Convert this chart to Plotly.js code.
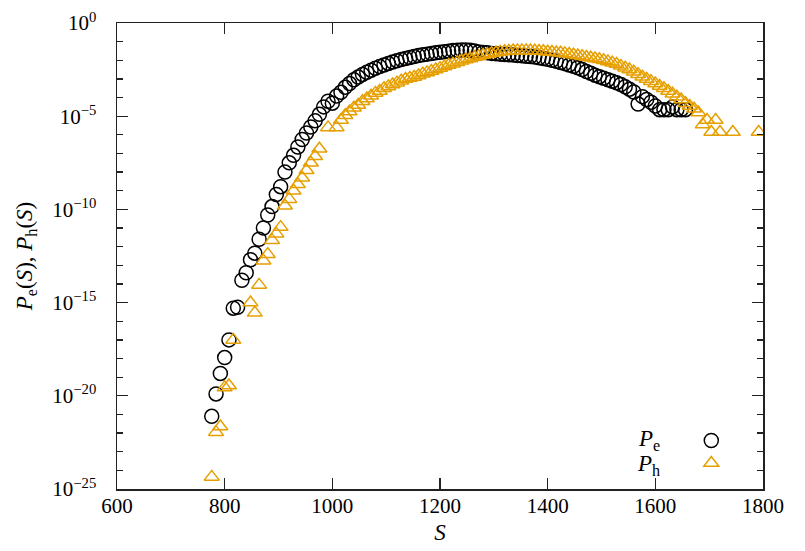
<!DOCTYPE html>
<html>
<head>
<meta charset="utf-8">
<script src="https://cdn.plot.ly/plotly-3.0.1.min.js"></script>
<style>html,body{margin:0;padding:0;background:#fff}#chart{width:805px;height:551px}</style>
</head>
<body>
<div id="chart"></div>
<script>
// S values and log10 of probabilities
const S_e = [776,784,792,800,808,816,824,832,840,848,856,864,872,880,888,896,904,912,920,928,936,944,952,960,968,976,984,992,1000,1008,1016,1024,1032,1040,1048,1056,1064,1072,1080,1088,1096,1104,1112,1120,1128,1136,1144,1152,1160,1168,1176,1184,1192,1200,1208,1216,1224,1232,1240,1248,1256,1264,1272,1280,1288,1296,1304,1312,1320,1328,1336,1344,1352,1360,1368,1376,1384,1392,1400,1408,1416,1424,1432,1440,1448,1456,1464,1472,1480,1488,1496,1504,1512,1520,1528,1536,1544,1552,1560,1568,1576,1584,1592,1600,1608,1616,1624,1632,1640,1648,1656];
const logP_e = [-21.1,-19.9,-18.8,-17.95,-17.0,-15.3,-15.25,-13.8,-13.4,-12.7,-12.35,-11.6,-11.0,-10.3,-9.85,-9.2,-8.78,-8.0,-7.5,-7.1,-6.65,-6.25,-5.9,-5.58,-5.25,-4.9,-4.5,-4.2,-4.3,-3.92,-3.72,-3.45,-3.25,-3.05,-2.9,-2.76,-2.64,-2.53,-2.43,-2.34,-2.25,-2.17,-2.09,-2.02,-1.96,-1.9,-1.85,-1.8,-1.75,-1.71,-1.67,-1.64,-1.6,-1.57,-1.54,-1.51,-1.48,-1.46,-1.45,-1.45,-1.46,-1.5,-1.55,-1.58,-1.6,-1.63,-1.65,-1.67,-1.69,-1.7,-1.72,-1.74,-1.76,-1.78,-1.8,-1.83,-1.87,-1.91,-1.95,-2.0,-2.05,-2.12,-2.18,-2.25,-2.32,-2.4,-2.5,-2.6,-2.7,-2.8,-2.88,-2.96,-3.04,-3.12,-3.2,-3.3,-3.42,-3.55,-3.7,-4.35,-3.95,-4.1,-4.25,-4.45,-4.65,-4.65,-4.65,-4.5,-4.65,-4.65,-4.65];

const S_h = [776,784,792,800,808,816,848,856,864,872,880,888,896,904,912,920,928,936,944,952,960,968,976,992,1008,1016,1024,1032,1040,1048,1056,1064,1072,1080,1088,1096,1104,1112,1120,1128,1136,1144,1152,1160,1168,1176,1184,1192,1200,1208,1216,1224,1232,1240,1248,1256,1264,1272,1280,1288,1296,1304,1312,1320,1328,1336,1344,1352,1360,1368,1376,1384,1392,1400,1408,1416,1424,1432,1440,1448,1456,1464,1472,1480,1488,1496,1504,1512,1520,1528,1536,1544,1552,1560,1568,1576,1584,1592,1600,1608,1616,1624,1632,1640,1648,1656,1664,1672,1680,1688,1696,1704,1712,1720,1744,1792];
const logP_h = [-24.35,-21.95,-21.65,-19.55,-19.45,-17.0,-15.0,-15.55,-14.05,-12.75,-12.4,-11.65,-11.3,-10.95,-9.8,-9.45,-9.0,-8.65,-8.3,-7.9,-7.5,-7.15,-6.75,-5.6,-5.6,-5.2,-4.95,-4.75,-4.55,-4.4,-4.2,-4.05,-3.9,-3.75,-3.65,-3.5,-3.4,-3.3,-3.2,-3.1,-3.0,-2.95,-2.9,-2.82,-2.72,-2.65,-2.58,-2.5,-2.42,-2.33,-2.25,-2.18,-2.1,-2.03,-1.96,-1.9,-1.84,-1.78,-1.72,-1.67,-1.62,-1.58,-1.55,-1.52,-1.5,-1.48,-1.47,-1.47,-1.47,-1.48,-1.49,-1.5,-1.52,-1.54,-1.56,-1.58,-1.6,-1.63,-1.66,-1.7,-1.74,-1.78,-1.82,-1.86,-1.9,-1.95,-2.0,-2.06,-2.13,-2.2,-2.3,-2.4,-2.5,-2.62,-2.75,-2.88,-3.0,-3.12,-3.25,-3.38,-3.5,-3.65,-3.8,-3.95,-4.1,-4.3,-4.45,-4.6,-4.8,-5.45,-5.2,-5.85,-5.2,-5.85,-5.85,-5.85];

const xTicks = [600,800,1000,1200,1400,1600,1800];
const yTickExp = [-25,-20,-15,-10,-5,0];

const P_e = logP_e.map(v => Math.pow(10, v));
const P_h = logP_h.map(v => Math.pow(10, v));

const FONT = "Liberation Serif";
const minorVals = [];
for (let e = -24; e < 0; e++) { if (e % 5 !== 0) minorVals.push(Math.pow(10, e)); }

const traces = [
  {x: S_e, y: P_e, type: 'scatter', mode: 'markers', name: ' ',
   marker: {symbol: 'circle-open', size: 14, color: '#000000', line: {width: 1.5, color: '#000000'}}},
  {x: S_h, y: P_h, type: 'scatter', mode: 'markers', name: ' ',
   marker: {symbol: 'triangle-up-open', size: 13, color: '#E69F00', line: {width: 1.5, color: '#E69F00'}}}
];

const layout = {
  width: 805, height: 551,
  margin: {l: 117, r: 42, t: 23, b: 62},
  paper_bgcolor: '#fff', plot_bgcolor: '#fff',
  font: {family: FONT, size: 21, color: '#000'},
  showlegend: true,
  legend: {x: 0.889, xanchor: 'left', y: 0.139, yanchor: 'top', bgcolor: 'rgba(0,0,0,0)',
           font: {family: FONT, size: 15}, tracegroupgap: 0, itemwidth: 30},
  xaxis: {
    range: [600, 1800], tickvals: xTicks, ticktext: xTicks.map(String),
    ticks: 'inside', ticklen: 11, tickwidth: 1.3, tickcolor: '#222',
    showline: true, linecolor: '#222', linewidth: 1.5, mirror: 'ticks',
    showgrid: false, zeroline: false, ticklabelstandoff: -3,
    title: {text: '<i>S</i>', font: {family: FONT, size: 23}, standoff: 7}
  },
  yaxis: {
    type: 'log', range: [-25, 0],
    tickvals: yTickExp.map(e => Math.pow(10, e)),
    ticktext: yTickExp.map(e => '10<sup>' + (e < 0 ? '\u2212' + (-e) : e) + '</sup>'),
    ticks: 'inside', ticklen: 11, tickwidth: 1.3, tickcolor: '#222',
    minor: {tickvals: minorVals, ticks: 'inside', ticklen: 6, tickwidth: 1.3, tickcolor: '#222', showgrid: false},
    showline: true, linecolor: '#222', linewidth: 1.5, mirror: 'ticks',
    showgrid: false, zeroline: false, ticklabelstandoff: 15,
    title: {text: '<i>P</i><sub>e</sub>(<i>S</i>), <i>P</i><sub>h</sub>(<i>S</i>)', font: {family: FONT, size: 23}, standoff: 13}
  },
  annotations: [
    {xref: 'paper', yref: 'paper', x: 0.8437, y: 0.105, xanchor: 'right', yanchor: 'middle',
     text: '<i>P</i><sub>e</sub>', showarrow: false, font: {family: FONT, size: 23}},
    {xref: 'paper', yref: 'paper', x: 0.8437, y: 0.052, xanchor: 'right', yanchor: 'middle',
     text: '<i>P</i><sub>h</sub>', showarrow: false, font: {family: FONT, size: 23}}
  ]
};

Plotly.newPlot('chart', traces, layout, {displayModeBar: false, staticPlot: true});
</script>
</body>
</html>
